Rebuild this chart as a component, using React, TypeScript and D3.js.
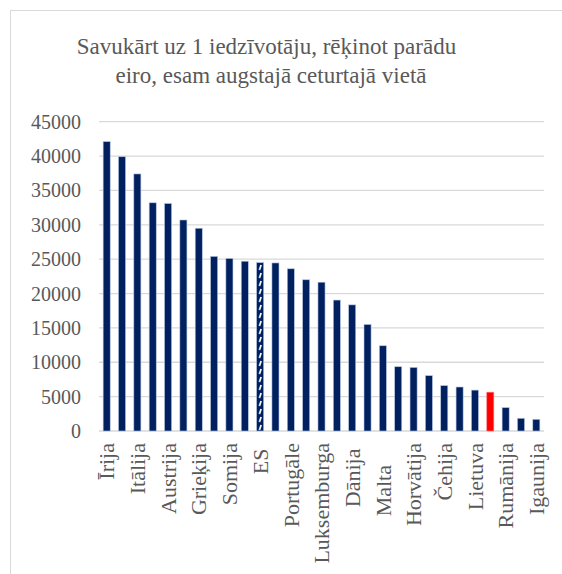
import React from "react";
import * as d3 from "d3";

const titleLines = ["Savukārt uz 1 iedzīvotāju, rēķinot parādu", "eiro, esam augstajā ceturtajā vietā"];

const categories = [
  "Īrija", "Beļģija", "Itālija", "Francija", "Austrija", "Lielbritānija", "Grieķija", "Vācija",
  "Somija", "Spānija", "ES", "Nīderlande", "Portugāle", "Zviedrija", "Luksemburga", "Kipra",
  "Dānija", "Slovēnija", "Malta", "Slovākija", "Horvātija", "Ungārija", "Čehija", "Polija",
  "Lietuva", "Latvija", "Rumānija", "Bulgārija", "Igaunija",
];

const values = [
  42100, 39900, 37400, 33200, 33100, 30700, 29500, 25400,
  25100, 24700, 24500, 24450, 23600, 22000, 21650, 19050,
  18350, 15500, 12400, 9350, 9250, 8050, 6600, 6400,
  5950, 5650, 3400, 1850, 1700,
];

// axis labels as shown (every other category; some carry trailing spaces in the source)
const axisLabels: Record<string, string> = {
  "Īrija": "Īrija", "Itālija": "Itālija", "Austrija": "Austrija", "Grieķija": "Grieķija",
  "Somija": "Somija", "ES": "ES ", "Portugāle": "Portugāle", "Luksemburga": "Luksemburga",
  "Dānija": "Dānija ", "Malta": "Malta    ", "Horvātija": "Horvātija", "Čehija": "Čehija",
  "Lietuva": "Lietuva", "Rumānija": "Rumānija", "Igaunija": "Igaunija",
};

const yTicks = [0, 5000, 10000, 15000, 20000, 25000, 30000, 35000, 40000, 45000];

const highlightRed = "Latvija";
const hatched = "ES";

export default function App() {
  const W = 562, H = 574;
  const left = 99, right = 544, top = 121.7, bottom = 431;
  const x = d3.scaleBand<string>().domain(categories).range([left, right]).paddingInner(0.54).paddingOuter(0.27);
  const y = d3.scaleLinear().domain([0, 45000]).range([bottom, top]);
  const ts = { fontFamily: '"Liberation Serif"' };
  const grey = "#595959";
  const navy = "#002060";
  const bw = x.bandwidth();
  const esX = x(hatched) as number;
  const titleX = [266.5, 271];

  return (
    <svg width={W} height={H} style={{ position: "absolute", left: 0, top: 0, background: "#fff" }}>
      <defs>
        <pattern id="esHatch" patternUnits="userSpaceOnUse" x={esX} y={0} width={bw} height={8}>
          <rect width={bw} height={8} fill={navy} />
          <line x1={bw / 2 + 1} y1={1} x2={bw / 2 - 0.6} y2={6} stroke="#fff" strokeWidth={1.6} />
        </pattern>
      </defs>
      <rect x={10.5} y={10.5} width={W + 20} height={H + 20} fill="#fff" stroke="#d9d9d9" strokeWidth={1} />
      {titleLines.map((t, i) => (
        <text key={t} x={titleX[i]} y={54 + i * 29} textAnchor="middle" fontSize={23} fill={grey} style={ts}>{t}</text>
      ))}
      {yTicks.map((t) => (
        <g key={t}>
          <line x1={left} x2={right} y1={y(t)} y2={y(t)} stroke="#d9d9d9" strokeWidth={1.3} />
          <text x={81} y={y(t)} dy="0.35em" textAnchor="end" fontSize={20} fill={grey} style={ts}>{t}</text>
        </g>
      ))}
      {categories.map((c, i) => {
        const v = values[i];
        const fill = c === highlightRed ? "#ff0000" : c === hatched ? "url(#esHatch)" : navy;
        return (
          <rect key={c} x={x(c)} y={y(v)} width={bw} height={y(0) - y(v)} fill={fill}
            stroke={c === highlightRed ? "#ff8080" : "#b4c4e0"} strokeWidth={0.6} />
        );
      })}
      {categories.map((c) =>
        axisLabels[c] ? (
          <text key={c} transform={`translate(${(x(c) as number) + bw / 2},443) rotate(-90)`}
            textAnchor="end" dy="0.35em" fontSize={22} fill={grey}
            style={{ ...ts, whiteSpace: "pre" }}>{axisLabels[c]}</text>
        ) : null
      )}
    </svg>
  );
}
